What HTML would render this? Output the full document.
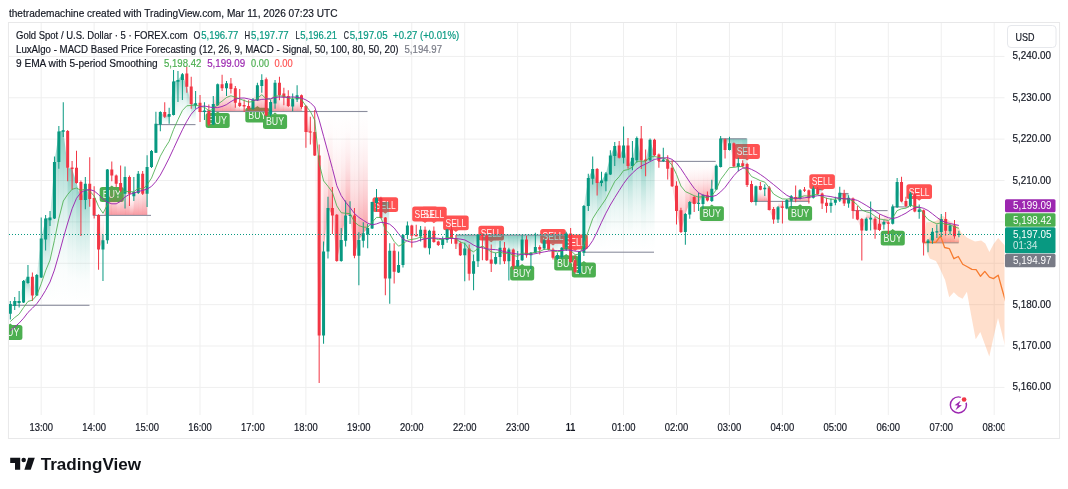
<!DOCTYPE html><html><head><meta charset="utf-8"><title>Gold Spot / U.S. Dollar chart</title>
<style>html,body{margin:0;padding:0;background:#fff;}body{width:1068px;height:489px;overflow:hidden;}svg{display:block;font-family:"Liberation Sans", Arial, sans-serif;}text{white-space:pre;}</style></head><body>
<svg width="1068" height="489" viewBox="0 0 1068 489">
<defs>
<linearGradient id="gt" x1="0" y1="0" x2="0" y2="1"><stop offset="0.00" stop-color="#089981" stop-opacity="0.500"/><stop offset="0.15" stop-color="#089981" stop-opacity="0.361"/><stop offset="0.30" stop-color="#089981" stop-opacity="0.245"/><stop offset="0.45" stop-color="#089981" stop-opacity="0.151"/><stop offset="0.60" stop-color="#089981" stop-opacity="0.080"/><stop offset="0.80" stop-color="#089981" stop-opacity="0.020"/><stop offset="1.00" stop-color="#089981" stop-opacity="0.000"/></linearGradient>
<linearGradient id="gr" x1="0" y1="0" x2="0" y2="1"><stop offset="0.00" stop-color="#f23645" stop-opacity="0.000"/><stop offset="0.20" stop-color="#f23645" stop-opacity="0.020"/><stop offset="0.40" stop-color="#f23645" stop-opacity="0.080"/><stop offset="0.55" stop-color="#f23645" stop-opacity="0.151"/><stop offset="0.70" stop-color="#f23645" stop-opacity="0.245"/><stop offset="0.85" stop-color="#f23645" stop-opacity="0.361"/><stop offset="1.00" stop-color="#f23645" stop-opacity="0.500"/></linearGradient>
<clipPath id="pane"><rect x="9" y="23" width="995.5" height="392"/></clipPath>
</defs>
<rect width="1068" height="489" fill="#fff"/>
<text x="8.9" y="16.8" font-size="10.5" fill="#131722" textLength="328.6" lengthAdjust="spacingAndGlyphs" stroke="#131722" stroke-width="0.18">thetrademachine created with TradingView.com, Mar 11, 2026 07:23 UTC</text>
<rect x="8.45" y="22.5" width="1051.1" height="416" fill="#fff" stroke="#e8e8e9" stroke-width="1"/>
<path d="M41.17 23V415 M94.11 23V415 M147.06 23V415 M200.00 23V415 M252.95 23V415 M305.89 23V415 M358.83 23V415 M411.78 23V415 M464.72 23V415 M517.67 23V415 M570.61 23V415 M623.55 23V415 M676.50 23V415 M729.44 23V415 M782.39 23V415 M835.33 23V415 M888.27 23V415 M941.22 23V415 M994.16 23V415 M9 56.40H1004.5 M9 97.78H1004.5 M9 139.15H1004.5 M9 180.53H1004.5 M9 221.90H1004.5 M9 263.27H1004.5 M9 304.65H1004.5 M9 346.02H1004.5 M9 387.40H1004.5" stroke="#efefef" stroke-width="1" fill="none"/>
<g clip-path="url(#pane)">
<g><rect x="-1.7" y="325.1" width="24.1" height="14.8" rx="2.5" fill="#4caf50"/><path d="M7.8 325.4L10.3 323.4L12.8 325.4Z" fill="#4caf50"/></g>
<g><rect x="99.7" y="187.1" width="24.1" height="14.8" rx="2.5" fill="#4caf50"/><path d="M109.3 187.4L111.8 185.4L114.3 187.4Z" fill="#4caf50"/></g>
<g><rect x="205.6" y="113.1" width="24.1" height="14.8" rx="2.5" fill="#4caf50"/><path d="M215.2 113.4L217.7 111.4L220.2 113.4Z" fill="#4caf50"/></g>
<g><rect x="245.3" y="107.8" width="24.1" height="14.8" rx="2.5" fill="#4caf50"/><path d="M254.9 108.1L257.4 106.1L259.9 108.1Z" fill="#4caf50"/></g>
<g><rect x="263.0" y="114.2" width="24.1" height="14.8" rx="2.5" fill="#4caf50"/><path d="M272.5 114.5L275.0 112.5L277.5 114.5Z" fill="#4caf50"/></g>
<g><rect x="372.5" y="197.3" width="25.6" height="14.8" rx="2.5" fill="#ff5252"/><path d="M382.8 211.8L385.3 213.8L387.8 211.8Z" fill="#ff5252"/></g>
<g><rect x="412.2" y="206.6" width="25.6" height="14.8" rx="2.5" fill="#ff5252"/><path d="M422.5 221.1L425.0 223.1L427.5 221.1Z" fill="#ff5252"/></g>
<g><rect x="421.1" y="206.8" width="25.6" height="14.8" rx="2.5" fill="#ff5252"/><path d="M431.4 221.3L433.9 223.3L436.4 221.3Z" fill="#ff5252"/></g>
<g><rect x="443.1" y="215.5" width="25.6" height="14.8" rx="2.5" fill="#ff5252"/><path d="M453.4 230.0L455.9 232.0L458.4 230.0Z" fill="#ff5252"/></g>
<g><rect x="478.4" y="225.8" width="25.6" height="14.8" rx="2.5" fill="#ff5252"/><path d="M488.7 240.3L491.2 242.3L493.7 240.3Z" fill="#ff5252"/></g>
<g><rect x="510.1" y="265.8" width="24.1" height="14.8" rx="2.5" fill="#4caf50"/><path d="M519.6 266.1L522.1 264.1L524.6 266.1Z" fill="#4caf50"/></g>
<g><rect x="540.2" y="229.0" width="25.6" height="14.8" rx="2.5" fill="#ff5252"/><path d="M550.5 243.5L553.0 245.5L555.5 243.5Z" fill="#ff5252"/></g>
<g><rect x="554.2" y="255.6" width="24.1" height="14.8" rx="2.5" fill="#4caf50"/><path d="M563.7 255.9L566.2 253.9L568.7 255.9Z" fill="#4caf50"/></g>
<g><rect x="562.3" y="234.6" width="25.6" height="14.8" rx="2.5" fill="#ff5252"/><path d="M572.6 249.1L575.1 251.1L577.6 249.1Z" fill="#ff5252"/></g>
<g><rect x="571.8" y="262.6" width="24.1" height="14.8" rx="2.5" fill="#4caf50"/><path d="M581.4 262.9L583.9 260.9L586.4 262.9Z" fill="#4caf50"/></g>
<g><rect x="699.8" y="206.2" width="24.1" height="14.8" rx="2.5" fill="#4caf50"/><path d="M709.3 206.5L711.8 204.5L714.3 206.5Z" fill="#4caf50"/></g>
<g><rect x="734.3" y="144.1" width="25.6" height="14.8" rx="2.5" fill="#ff5252"/><path d="M744.6 158.6L747.1 160.6L749.6 158.6Z" fill="#ff5252"/></g>
<g><rect x="788.0" y="206.0" width="24.1" height="14.8" rx="2.5" fill="#4caf50"/><path d="M797.6 206.3L800.1 204.3L802.6 206.3Z" fill="#4caf50"/></g>
<g><rect x="809.3" y="174.2" width="25.6" height="14.8" rx="2.5" fill="#ff5252"/><path d="M819.6 188.7L822.1 190.7L824.6 188.7Z" fill="#ff5252"/></g>
<g><rect x="880.7" y="230.8" width="24.1" height="14.8" rx="2.5" fill="#4caf50"/><path d="M890.2 231.1L892.7 229.1L895.2 231.1Z" fill="#4caf50"/></g>
<g><rect x="906.4" y="184.3" width="25.6" height="14.8" rx="2.5" fill="#ff5252"/><path d="M916.7 198.8L919.2 200.8L921.7 198.8Z" fill="#ff5252"/></g>
<text x="10.3" y="336.3" font-size="10.9" fill="#fff" text-anchor="middle" textLength="18.2" lengthAdjust="spacingAndGlyphs" fill-opacity="0.93">BUY</text>
<text x="111.8" y="198.3" font-size="10.9" fill="#fff" text-anchor="middle" textLength="18.2" lengthAdjust="spacingAndGlyphs" fill-opacity="0.93">BUY</text>
<text x="217.7" y="124.3" font-size="10.9" fill="#fff" text-anchor="middle" textLength="18.2" lengthAdjust="spacingAndGlyphs" fill-opacity="0.93">BUY</text>
<text x="257.4" y="119.0" font-size="10.9" fill="#fff" text-anchor="middle" textLength="18.2" lengthAdjust="spacingAndGlyphs" fill-opacity="0.93">BUY</text>
<text x="275.0" y="125.4" font-size="10.9" fill="#fff" text-anchor="middle" textLength="18.2" lengthAdjust="spacingAndGlyphs" fill-opacity="0.93">BUY</text>
<text x="385.3" y="208.5" font-size="10.9" fill="#fff" text-anchor="middle" textLength="20.8" lengthAdjust="spacingAndGlyphs" fill-opacity="0.93">SELL</text>
<text x="425.0" y="217.8" font-size="10.9" fill="#fff" text-anchor="middle" textLength="20.8" lengthAdjust="spacingAndGlyphs" fill-opacity="0.93">SELL</text>
<text x="433.9" y="218.0" font-size="10.9" fill="#fff" text-anchor="middle" textLength="20.8" lengthAdjust="spacingAndGlyphs" fill-opacity="0.93">SELL</text>
<text x="455.9" y="226.7" font-size="10.9" fill="#fff" text-anchor="middle" textLength="20.8" lengthAdjust="spacingAndGlyphs" fill-opacity="0.93">SELL</text>
<text x="491.2" y="237.0" font-size="10.9" fill="#fff" text-anchor="middle" textLength="20.8" lengthAdjust="spacingAndGlyphs" fill-opacity="0.93">SELL</text>
<text x="522.1" y="277.0" font-size="10.9" fill="#fff" text-anchor="middle" textLength="18.2" lengthAdjust="spacingAndGlyphs" fill-opacity="0.93">BUY</text>
<text x="553.0" y="240.2" font-size="10.9" fill="#fff" text-anchor="middle" textLength="20.8" lengthAdjust="spacingAndGlyphs" fill-opacity="0.93">SELL</text>
<text x="566.2" y="266.8" font-size="10.9" fill="#fff" text-anchor="middle" textLength="18.2" lengthAdjust="spacingAndGlyphs" fill-opacity="0.93">BUY</text>
<text x="575.1" y="245.8" font-size="10.9" fill="#fff" text-anchor="middle" textLength="20.8" lengthAdjust="spacingAndGlyphs" fill-opacity="0.93">SELL</text>
<text x="583.9" y="273.8" font-size="10.9" fill="#fff" text-anchor="middle" textLength="18.2" lengthAdjust="spacingAndGlyphs" fill-opacity="0.93">BUY</text>
<text x="711.8" y="217.4" font-size="10.9" fill="#fff" text-anchor="middle" textLength="18.2" lengthAdjust="spacingAndGlyphs" fill-opacity="0.93">BUY</text>
<text x="747.1" y="155.3" font-size="10.9" fill="#fff" text-anchor="middle" textLength="20.8" lengthAdjust="spacingAndGlyphs" fill-opacity="0.93">SELL</text>
<text x="800.1" y="217.2" font-size="10.9" fill="#fff" text-anchor="middle" textLength="18.2" lengthAdjust="spacingAndGlyphs" fill-opacity="0.93">BUY</text>
<text x="822.1" y="185.4" font-size="10.9" fill="#fff" text-anchor="middle" textLength="20.8" lengthAdjust="spacingAndGlyphs" fill-opacity="0.93">SELL</text>
<text x="892.7" y="242.0" font-size="10.9" fill="#fff" text-anchor="middle" textLength="18.2" lengthAdjust="spacingAndGlyphs" fill-opacity="0.93">BUY</text>
<text x="919.2" y="195.5" font-size="10.9" fill="#fff" text-anchor="middle" textLength="20.8" lengthAdjust="spacingAndGlyphs" fill-opacity="0.93">SELL</text>
<g>
<polygon points="10.32,304.0 14.88,301.0 14.88,305.0 10.32,305.0" fill="url(#gt)"/>
<polygon points="14.73,301.0 19.29,301.0 19.29,305.0 14.73,305.0" fill="url(#gt)"/>
<polygon points="19.14,301.0 23.70,281.0 23.70,305.0 19.14,305.0" fill="url(#gt)"/>
<polygon points="23.55,281.0 28.11,276.7 28.11,305.0 23.55,305.0" fill="url(#gt)"/>
<polygon points="27.96,276.7 32.53,295.5 32.53,305.0 27.96,305.0" fill="url(#gt)"/>
<polygon points="32.38,295.5 36.94,275.0 36.94,305.0 32.38,305.0" fill="url(#gt)"/>
<polygon points="36.79,275.0 41.35,238.6 41.35,305.0 36.79,305.0" fill="url(#gt)"/>
<polygon points="41.20,238.6 45.76,218.5 45.76,305.0 41.20,305.0" fill="url(#gt)"/>
<polygon points="45.61,218.5 50.17,217.6 50.17,305.0 45.61,305.0" fill="url(#gt)"/>
<polygon points="50.02,217.6 54.59,162.0 54.59,305.0 50.02,305.0" fill="url(#gt)"/>
<polygon points="54.44,162.0 59.00,131.5 59.00,305.0 54.44,305.0" fill="url(#gt)"/>
<polygon points="58.85,131.5 63.41,130.3 63.41,305.0 58.85,305.0" fill="url(#gt)"/>
<polygon points="63.26,130.3 67.82,167.8 67.82,305.0 63.26,305.0" fill="url(#gt)"/>
<polygon points="67.67,167.8 72.23,169.0 72.23,305.0 67.67,305.0" fill="url(#gt)"/>
<polygon points="72.08,169.0 76.65,182.9 76.65,305.0 72.08,305.0" fill="url(#gt)"/>
<polygon points="76.50,182.9 81.06,200.0 81.06,305.0 76.50,305.0" fill="url(#gt)"/>
<polygon points="80.91,200.0 85.47,183.8 85.47,305.0 80.91,305.0" fill="url(#gt)"/>
<polygon points="85.32,183.8 89.88,199.0 89.88,305.0 85.32,305.0" fill="url(#gt)"/>
<polygon points="94.14,215.1 98.71,249.5 98.71,215.1 94.14,215.1" fill="url(#gr)"/>
<polygon points="98.56,249.5 103.12,240.3 103.12,215.1 98.56,215.1" fill="url(#gr)"/>
<polygon points="102.97,240.3 104.59,215.1 104.59,215.1 102.97,215.1" fill="url(#gr)"/>
<polygon points="104.59,215.1 107.53,169.5 107.53,215.1 104.59,215.1" fill="url(#gr)"/>
<polygon points="107.38,169.5 111.94,175.4 111.94,215.1 107.38,215.1" fill="url(#gr)"/>
<polygon points="111.79,175.4 116.35,183.8 116.35,215.1 111.79,215.1" fill="url(#gr)"/>
<polygon points="116.20,183.8 120.77,190.5 120.77,215.1 116.20,215.1" fill="url(#gr)"/>
<polygon points="120.62,190.5 125.18,177.0 125.18,215.1 120.62,215.1" fill="url(#gr)"/>
<polygon points="125.03,177.0 129.59,193.8 129.59,215.1 125.03,215.1" fill="url(#gr)"/>
<polygon points="129.44,193.8 134.00,192.0 134.00,215.1 129.44,215.1" fill="url(#gr)"/>
<polygon points="133.85,192.0 138.41,173.7 138.41,215.1 133.85,215.1" fill="url(#gr)"/>
<polygon points="138.26,173.7 142.83,193.8 142.83,215.1 138.26,215.1" fill="url(#gr)"/>
<polygon points="142.68,193.8 147.24,167.0 147.24,215.1 142.68,215.1" fill="url(#gr)"/>
<polygon points="155.91,123.8 160.47,112.0 160.47,124.3 155.91,124.3" fill="url(#gt)"/>
<polygon points="160.32,112.0 164.89,116.7 164.89,124.3 160.32,124.3" fill="url(#gt)"/>
<polygon points="164.74,116.7 169.30,114.0 169.30,124.3 164.74,124.3" fill="url(#gt)"/>
<polygon points="169.15,114.0 173.71,81.5 173.71,124.3 169.15,124.3" fill="url(#gt)"/>
<polygon points="173.56,81.5 178.12,80.1 178.12,124.3 173.56,124.3" fill="url(#gt)"/>
<polygon points="177.97,80.1 182.53,74.3 182.53,124.3 177.97,124.3" fill="url(#gt)"/>
<polygon points="182.38,74.3 186.95,86.8 186.95,124.3 182.38,124.3" fill="url(#gt)"/>
<polygon points="186.80,86.8 191.36,104.0 191.36,124.3 186.80,124.3" fill="url(#gt)"/>
<polygon points="191.21,104.0 195.77,103.3 195.77,124.3 191.21,124.3" fill="url(#gt)"/>
<polygon points="200.03,112.0 202.47,111.2 202.47,111.2 200.03,111.2" fill="url(#gr)"/>
<polygon points="202.47,111.2 204.59,110.5 204.59,111.2 202.47,111.2" fill="url(#gr)"/>
<polygon points="204.44,110.5 204.67,111.2 204.67,111.2 204.44,111.2" fill="url(#gr)"/>
<polygon points="204.67,111.2 209.01,124.6 209.01,111.2 204.67,111.2" fill="url(#gr)"/>
<polygon points="208.86,124.6 211.82,111.2 211.82,111.2 208.86,111.2" fill="url(#gr)"/>
<polygon points="211.82,111.2 213.42,104.0 213.42,111.2 211.82,111.2" fill="url(#gr)"/>
<polygon points="213.27,104.0 217.83,84.3 217.83,111.2 213.27,111.2" fill="url(#gr)"/>
<polygon points="217.68,84.3 222.24,88.2 222.24,111.2 217.68,111.2" fill="url(#gr)"/>
<polygon points="222.09,88.2 226.65,83.2 226.65,111.2 222.09,111.2" fill="url(#gr)"/>
<polygon points="226.50,83.2 231.07,88.9 231.07,111.2 226.50,111.2" fill="url(#gr)"/>
<polygon points="230.92,88.9 235.48,102.8 235.48,111.2 230.92,111.2" fill="url(#gr)"/>
<polygon points="235.33,102.8 239.89,106.1 239.89,111.2 235.33,111.2" fill="url(#gr)"/>
<polygon points="239.74,106.1 244.30,106.5 244.30,111.2 239.74,111.2" fill="url(#gr)"/>
<polygon points="244.15,106.5 248.71,108.7 248.71,111.2 244.15,111.2" fill="url(#gr)"/>
<polygon points="248.56,108.7 253.13,99.4 253.13,111.2 248.56,111.2" fill="url(#gr)"/>
<polygon points="252.98,99.4 257.54,85.2 257.54,111.2 252.98,111.2" fill="url(#gr)"/>
<polygon points="257.39,85.2 261.95,80.1 261.95,111.2 257.39,111.2" fill="url(#gr)"/>
<polygon points="261.80,80.1 265.82,111.2 265.82,111.2 261.80,111.2" fill="url(#gr)"/>
<polygon points="265.82,111.2 266.36,115.4 266.36,111.2 265.82,111.2" fill="url(#gr)"/>
<polygon points="266.21,115.4 267.64,111.2 267.64,111.2 266.21,111.2" fill="url(#gr)"/>
<polygon points="267.64,111.2 270.77,102.0 270.77,111.2 267.64,111.2" fill="url(#gr)"/>
<polygon points="270.62,102.0 275.19,82.7 275.19,111.2 270.62,111.2" fill="url(#gr)"/>
<polygon points="275.04,82.7 279.60,95.2 279.60,111.2 275.04,111.2" fill="url(#gr)"/>
<polygon points="279.45,95.2 284.01,97.2 284.01,111.2 279.45,111.2" fill="url(#gr)"/>
<polygon points="283.86,97.2 288.42,106.1 288.42,111.2 283.86,111.2" fill="url(#gr)"/>
<polygon points="288.27,106.1 292.83,98.9 292.83,111.2 288.27,111.2" fill="url(#gr)"/>
<polygon points="292.68,98.9 297.25,95.2 297.25,111.2 292.68,111.2" fill="url(#gr)"/>
<polygon points="297.10,95.2 301.66,107.0 301.66,111.2 297.10,111.2" fill="url(#gr)"/>
<polygon points="301.51,107.0 302.27,111.2 302.27,111.2 301.51,111.2" fill="url(#gr)"/>
<polygon points="302.27,111.2 306.07,132.0 306.07,111.2 302.27,111.2" fill="url(#gr)"/>
<polygon points="305.92,132.0 310.48,132.5 310.48,111.2 305.92,111.2" fill="url(#gr)"/>
<polygon points="310.33,132.5 314.89,155.4 314.89,111.2 310.33,111.2" fill="url(#gr)"/>
<polygon points="314.74,155.4 319.31,335.4 319.31,111.2 314.74,111.2" fill="url(#gr)"/>
<polygon points="319.16,335.4 323.72,251.6 323.72,111.2 319.16,111.2" fill="url(#gr)"/>
<polygon points="323.57,251.6 328.13,208.0 328.13,111.2 323.57,111.2" fill="url(#gr)"/>
<polygon points="327.98,208.0 332.54,215.6 332.54,111.2 327.98,111.2" fill="url(#gr)"/>
<polygon points="332.39,215.6 336.95,260.9 336.95,111.2 332.39,111.2" fill="url(#gr)"/>
<polygon points="336.80,260.9 341.37,239.9 341.37,111.2 336.80,111.2" fill="url(#gr)"/>
<polygon points="341.22,239.9 345.78,215.6 345.78,111.2 341.22,111.2" fill="url(#gr)"/>
<polygon points="345.63,215.6 350.19,214.7 350.19,111.2 345.63,111.2" fill="url(#gr)"/>
<polygon points="350.04,214.7 354.60,255.8 354.60,111.2 350.04,111.2" fill="url(#gr)"/>
<polygon points="354.45,255.8 359.01,239.9 359.01,111.2 354.45,111.2" fill="url(#gr)"/>
<polygon points="358.86,239.9 363.43,233.2 363.43,111.2 358.86,111.2" fill="url(#gr)"/>
<polygon points="363.28,233.2 367.84,228.1 367.84,111.2 363.28,111.2" fill="url(#gr)"/>
<polygon points="455.93,243.7 460.49,255.2 460.49,234.8 455.93,234.8" fill="url(#gt)"/>
<polygon points="460.34,255.2 464.90,248.6 464.90,234.8 460.34,234.8" fill="url(#gt)"/>
<polygon points="464.75,248.6 469.31,273.8 469.31,234.8 464.75,234.8" fill="url(#gt)"/>
<polygon points="469.16,273.8 473.73,261.2 473.73,234.8 469.16,234.8" fill="url(#gt)"/>
<polygon points="473.58,261.2 478.14,234.8 478.14,234.8 473.58,234.8" fill="url(#gt)"/>
<polygon points="477.99,234.8 482.55,236.3 482.55,234.8 477.99,234.8" fill="url(#gt)"/>
<polygon points="482.40,236.3 486.96,260.3 486.96,234.8 482.40,234.8" fill="url(#gt)"/>
<polygon points="486.81,260.3 491.37,263.7 491.37,234.8 486.81,234.8" fill="url(#gt)"/>
<polygon points="491.22,263.7 495.79,257.0 495.79,234.8 491.22,234.8" fill="url(#gt)"/>
<polygon points="495.64,257.0 500.20,247.8 500.20,234.8 495.64,234.8" fill="url(#gt)"/>
<polygon points="500.05,247.8 504.61,261.2 504.61,234.8 500.05,234.8" fill="url(#gt)"/>
<polygon points="504.46,261.2 509.02,249.4 509.02,234.8 504.46,234.8" fill="url(#gt)"/>
<polygon points="508.87,249.4 513.43,266.2 513.43,234.8 508.87,234.8" fill="url(#gt)"/>
<polygon points="513.28,266.2 517.85,260.0 517.85,234.8 513.28,234.8" fill="url(#gt)"/>
<polygon points="517.70,260.0 522.26,239.4 522.26,234.8 517.70,234.8" fill="url(#gt)"/>
<polygon points="522.11,239.4 526.67,255.3 526.67,234.8 522.11,234.8" fill="url(#gt)"/>
<polygon points="526.52,255.3 531.08,252.8 531.08,234.8 526.52,234.8" fill="url(#gt)"/>
<polygon points="530.93,252.8 535.49,246.9 535.49,234.8 530.93,234.8" fill="url(#gt)"/>
<polygon points="535.34,246.9 539.91,249.4 539.91,234.8 535.34,234.8" fill="url(#gt)"/>
<polygon points="539.76,249.4 544.32,240.2 544.32,234.8 539.76,234.8" fill="url(#gt)"/>
<polygon points="544.17,240.2 548.73,249.4 548.73,234.8 544.17,234.8" fill="url(#gt)"/>
<polygon points="548.58,249.4 553.14,257.8 553.14,234.8 548.58,234.8" fill="url(#gt)"/>
<polygon points="552.99,257.8 557.55,255.0 557.55,234.8 552.99,234.8" fill="url(#gt)"/>
<polygon points="557.40,255.0 561.97,247.8 561.97,234.8 557.40,234.8" fill="url(#gt)"/>
<polygon points="561.82,247.8 565.96,234.8 565.96,234.8 561.82,234.8" fill="url(#gt)"/>
<polygon points="565.96,234.8 566.38,233.5 566.38,234.8 565.96,234.8" fill="url(#gt)"/>
<polygon points="583.88,206.0 588.44,177.9 588.44,251.9 583.88,251.9" fill="url(#gt)"/>
<polygon points="588.29,177.9 592.85,169.0 592.85,251.9 588.29,251.9" fill="url(#gt)"/>
<polygon points="592.70,169.0 597.26,182.9 597.26,251.9 592.70,251.9" fill="url(#gt)"/>
<polygon points="597.11,182.9 601.67,180.4 601.67,251.9 597.11,251.9" fill="url(#gt)"/>
<polygon points="601.52,180.4 606.09,173.4 606.09,251.9 601.52,251.9" fill="url(#gt)"/>
<polygon points="605.94,173.4 610.50,155.6 610.50,251.9 605.94,251.9" fill="url(#gt)"/>
<polygon points="610.35,155.6 614.91,146.0 614.91,251.9 610.35,251.9" fill="url(#gt)"/>
<polygon points="614.76,146.0 619.32,157.8 619.32,251.9 614.76,251.9" fill="url(#gt)"/>
<polygon points="619.17,157.8 623.73,145.5 623.73,251.9 619.17,251.9" fill="url(#gt)"/>
<polygon points="623.58,145.5 628.15,166.1 628.15,251.9 623.58,251.9" fill="url(#gt)"/>
<polygon points="628.00,166.1 632.56,157.8 632.56,251.9 628.00,251.9" fill="url(#gt)"/>
<polygon points="632.41,157.8 636.97,138.1 636.97,251.9 632.41,251.9" fill="url(#gt)"/>
<polygon points="636.82,138.1 641.38,160.3 641.38,251.9 636.82,251.9" fill="url(#gt)"/>
<polygon points="641.23,160.3 645.79,161.0 645.79,251.9 641.23,251.9" fill="url(#gt)"/>
<polygon points="645.64,161.0 650.21,139.8 650.21,251.9 645.64,251.9" fill="url(#gt)"/>
<polygon points="650.06,139.8 654.62,155.2 654.62,251.9 650.06,251.9" fill="url(#gt)"/>
<polygon points="658.88,161.1 663.44,159.4 663.44,161.1 658.88,161.1" fill="url(#gr)"/>
<polygon points="663.29,159.4 664.13,161.1 664.13,161.1 663.29,161.1" fill="url(#gr)"/>
<polygon points="664.13,161.1 667.85,168.7 667.85,161.1 664.13,161.1" fill="url(#gr)"/>
<polygon points="667.70,168.7 672.27,186.3 672.27,161.1 667.70,161.1" fill="url(#gr)"/>
<polygon points="672.12,186.3 676.68,211.1 676.68,161.1 672.12,161.1" fill="url(#gr)"/>
<polygon points="676.53,211.1 681.09,232.1 681.09,161.1 676.53,161.1" fill="url(#gr)"/>
<polygon points="680.94,232.1 685.50,214.0 685.50,161.1 680.94,161.1" fill="url(#gr)"/>
<polygon points="685.35,214.0 689.91,201.9 689.91,161.1 685.35,161.1" fill="url(#gr)"/>
<polygon points="689.76,201.9 694.33,203.9 694.33,161.1 689.76,161.1" fill="url(#gr)"/>
<polygon points="694.18,203.9 698.74,202.8 698.74,161.1 694.18,161.1" fill="url(#gr)"/>
<polygon points="698.59,202.8 703.15,195.2 703.15,161.1 698.59,161.1" fill="url(#gr)"/>
<polygon points="703.00,195.2 707.56,200.6 707.56,161.1 703.00,161.1" fill="url(#gr)"/>
<polygon points="707.41,200.6 711.97,188.8 711.97,161.1 707.41,161.1" fill="url(#gr)"/>
<polygon points="711.82,188.8 716.39,165.8 716.39,161.1 711.82,161.1" fill="url(#gr)"/>
<polygon points="720.65,138.8 725.21,149.9 725.21,138.5 720.65,138.5" fill="url(#gt)"/>
<polygon points="725.06,149.9 729.62,143.2 729.62,138.5 725.06,138.5" fill="url(#gt)"/>
<polygon points="729.47,143.2 734.03,166.6 734.03,138.5 729.47,138.5" fill="url(#gt)"/>
<polygon points="733.88,166.6 738.45,163.3 738.45,138.5 733.88,138.5" fill="url(#gt)"/>
<polygon points="738.30,163.3 742.86,166.1 742.86,138.5 738.30,138.5" fill="url(#gt)"/>
<polygon points="742.71,166.1 747.27,185.0 747.27,138.5 742.71,138.5" fill="url(#gt)"/>
<polygon points="751.53,201.9 751.76,201.1 751.76,201.1 751.53,201.1" fill="url(#gr)"/>
<polygon points="751.76,201.1 756.09,186.2 756.09,201.1 751.76,201.1" fill="url(#gr)"/>
<polygon points="755.94,186.2 760.51,189.7 760.51,201.1 755.94,201.1" fill="url(#gr)"/>
<polygon points="760.36,189.7 764.92,187.7 764.92,201.1 760.36,201.1" fill="url(#gr)"/>
<polygon points="764.77,187.7 767.51,201.1 767.51,201.1 764.77,201.1" fill="url(#gr)"/>
<polygon points="767.51,201.1 769.33,210.0 769.33,201.1 767.51,201.1" fill="url(#gr)"/>
<polygon points="769.18,210.0 773.74,219.5 773.74,201.1 769.18,201.1" fill="url(#gr)"/>
<polygon points="773.59,219.5 778.15,207.3 778.15,201.1 773.59,201.1" fill="url(#gr)"/>
<polygon points="778.00,207.3 782.57,207.8 782.57,201.1 778.00,201.1" fill="url(#gr)"/>
<polygon points="782.42,207.8 786.29,201.1 786.29,201.1 782.42,201.1" fill="url(#gr)"/>
<polygon points="786.29,201.1 786.98,199.9 786.98,201.1 786.29,201.1" fill="url(#gr)"/>
<polygon points="786.83,199.9 791.39,196.2 791.39,201.1 786.83,201.1" fill="url(#gr)"/>
<polygon points="791.24,196.2 795.80,199.2 795.80,201.1 791.24,201.1" fill="url(#gr)"/>
<polygon points="795.65,199.2 800.21,190.3 800.21,201.1 795.65,201.1" fill="url(#gr)"/>
<polygon points="800.06,190.3 804.63,190.8 804.63,201.1 800.06,201.1" fill="url(#gr)"/>
<polygon points="804.48,190.8 809.04,198.2 809.04,201.1 804.48,201.1" fill="url(#gr)"/>
<polygon points="839.98,193.2 844.33,203.6 844.33,193.2 839.98,193.2" fill="url(#gt)"/>
<polygon points="844.18,203.6 848.75,197.7 848.75,193.2 844.18,193.2" fill="url(#gt)"/>
<polygon points="853.01,211.1 857.57,219.5 857.57,210.3 853.01,210.3" fill="url(#gr)"/>
<polygon points="857.42,219.5 861.98,230.4 861.98,210.3 857.42,210.3" fill="url(#gr)"/>
<polygon points="861.83,230.4 866.39,218.7 866.39,210.3 861.83,210.3" fill="url(#gr)"/>
<polygon points="866.24,218.7 870.81,217.8 870.81,210.3 866.24,210.3" fill="url(#gr)"/>
<polygon points="870.66,217.8 875.22,229.6 875.22,210.3 870.66,210.3" fill="url(#gr)"/>
<polygon points="875.07,229.6 879.63,230.1 879.63,210.3 875.07,210.3" fill="url(#gr)"/>
<polygon points="879.48,230.1 884.04,222.0 884.04,210.3 879.48,210.3" fill="url(#gr)"/>
<polygon points="883.89,222.0 888.45,223.7 888.45,210.3 883.89,210.3" fill="url(#gr)"/>
<polygon points="892.72,206.6 897.28,182.1 897.28,206.6 892.72,206.6" fill="url(#gt)"/>
<polygon points="897.13,182.1 901.69,201.5 901.69,206.6 897.13,206.6" fill="url(#gt)"/>
<polygon points="901.54,201.5 906.10,206.1 906.10,206.6 901.54,206.6" fill="url(#gt)"/>
<polygon points="923.60,242.5 928.16,240.5 928.16,242.5 923.60,242.5" fill="url(#gr)"/>
<polygon points="928.01,240.5 932.57,231.7 932.57,242.5 928.01,242.5" fill="url(#gr)"/>
<polygon points="932.42,231.7 936.99,231.2 936.99,242.5 932.42,242.5" fill="url(#gr)"/>
<polygon points="936.84,231.2 941.40,219.0 941.40,242.5 936.84,242.5" fill="url(#gr)"/>
<polygon points="941.25,219.0 945.81,230.7 945.81,242.5 941.25,242.5" fill="url(#gr)"/>
<polygon points="945.66,230.7 950.22,225.4 950.22,242.5 945.66,242.5" fill="url(#gr)"/>
<polygon points="950.07,225.4 954.63,236.3 954.63,242.5 950.07,242.5" fill="url(#gr)"/>
<polygon points="954.48,236.3 959.05,233.8 959.05,242.5 954.48,242.5" fill="url(#gr)"/>
<rect x="382" y="202" width="7.2" height="34" fill="url(#gt)"/>
<rect x="816.8" y="189.3" width="5" height="5" fill="url(#gt)"/>
</g>
<rect x="9" y="304.75" width="80.5" height="1.1" fill="#8c8e9e"/>
<rect x="92.7" y="214.85" width="58.3" height="1.1" fill="#8c8e9e"/>
<rect x="156" y="124.05" width="39.5" height="1.1" fill="#8c8e9e"/>
<rect x="198.7" y="110.95" width="168.8" height="1.1" fill="#8c8e9e"/>
<rect x="456" y="234.55" width="109.5" height="1.1" fill="#8c8e9e"/>
<rect x="584" y="251.65" width="70.0" height="1.1" fill="#8c8e9e"/>
<rect x="658" y="160.85" width="57.7" height="1.1" fill="#8c8e9e"/>
<rect x="719.4" y="138.25" width="27.2" height="1.1" fill="#8c8e9e"/>
<rect x="750.7" y="200.85" width="58.8" height="1.1" fill="#8c8e9e"/>
<rect x="838.9" y="192.95" width="9.4" height="1.1" fill="#8c8e9e"/>
<rect x="853.4" y="210.05" width="34.2" height="1.1" fill="#8c8e9e"/>
<rect x="893" y="206.35" width="16.0" height="1.1" fill="#8c8e9e"/>
<rect x="922.5" y="242.25" width="36.1" height="1.1" fill="#8c8e9e"/>
<rect x="817.5" y="189" width="3.5" height="1" fill="#787b86"/>
<polygon points="923.5,242.3 926.1,222.5 931,222 936,221 940.5,217 943,215.8 946.2,218.4 951,222 956.5,224.6 958.6,227 961,232.3 966.8,237.4 971.3,239.8 975,241.6 981.2,240.5 985.3,243.6 989.4,251.9 993.6,244.1 998.2,238 1003.9,244.6 1008,249 1008,358 1004.5,343.8 998,318 993.7,336.5 989.3,356.6 984.9,344.6 980.3,332 975.7,339.2 971.3,316 966.9,291.8 962.6,298.8 958.2,296.4 953.8,292.3 949.2,297.2 945.1,280 944.6,279.1 941,270.9 938,264.7 935.9,261.1 929.7,258.5 927.1,252.4 926.3,246 923.5,242.3" fill="#ff7b2b" fill-opacity="0.24"/>
<polyline points="923.5,242.3 935.9,242.3 940.5,235.9 944.6,247.5 949.3,248.6 953.9,258.7 958.3,256.5 962.7,264.2 967.3,266.8 971.9,269.4 976.1,269.7 980.5,276.3 984.8,271.4 989.4,277.1 993.4,278.6 998.2,275.2 1002.3,290 1006.6,305" fill="none" stroke="#f77c30" stroke-width="1.3" stroke-linejoin="round"/>
<path d="M9.82 301.0h1v18.5h-1zM8.82 304.0h3v9.7h-3zM14.23 297.0h1v13.0h-1zM13.23 301.0h3v5.0h-3zM18.64 291.0h1v16.5h-1zM17.64 301.0h3v2.0h-3zM23.05 280.0h1v23.0h-1zM22.05 281.0h3v21.5h-3zM27.46 265.0h1v18.7h-1zM26.46 276.7h3v6.3h-3zM36.29 274.0h1v22.0h-1zM35.29 275.0h3v20.5h-3zM40.70 217.6h1v60.4h-1zM39.70 238.6h3v38.9h-3zM45.11 215.1h1v35.3h-1zM44.11 218.5h3v21.0h-3zM49.52 211.0h1v15.0h-1zM48.52 217.6h3v2.6h-3zM53.94 156.6h1v62.4h-1zM52.94 162.0h3v56.5h-3zM58.35 125.9h1v42.8h-1zM57.35 131.5h3v30.5h-3zM62.76 102.3h1v34.7h-1zM61.76 130.3h3v1.5h-3zM84.82 177.0h1v32.3h-1zM83.82 183.8h3v16.2h-3zM102.47 234.4h1v46.6h-1zM101.47 240.3h3v9.2h-3zM106.88 169.0h1v74.7h-1zM105.88 169.5h3v70.8h-3zM124.53 166.6h1v41.8h-1zM123.53 177.0h3v16.8h-3zM133.35 177.0h1v24.0h-1zM132.35 192.0h3v4.3h-3zM137.76 171.0h1v23.0h-1zM136.76 173.7h3v19.3h-3zM146.59 155.2h1v51.9h-1zM145.59 167.0h3v26.8h-3zM151.00 150.0h1v18.0h-1zM150.00 151.0h3v16.0h-3zM155.41 111.7h1v41.3h-1zM154.41 123.8h3v28.9h-3zM159.82 111.2h1v20.1h-1zM158.82 112.0h3v12.6h-3zM168.65 107.8h1v16.0h-1zM167.65 114.0h3v2.7h-3zM173.06 70.1h1v45.4h-1zM172.06 81.5h3v33.5h-3zM177.47 70.9h1v31.1h-1zM176.47 80.1h3v1.7h-3zM181.88 73.0h1v27.0h-1zM180.88 74.3h3v5.8h-3zM195.12 91.0h1v17.7h-1zM194.12 103.3h3v2.3h-3zM203.94 102.3h1v17.7h-1zM202.94 110.5h3v1.5h-3zM212.77 96.1h1v28.9h-1zM211.77 104.0h3v20.6h-3zM217.18 83.5h1v22.5h-1zM216.18 84.3h3v21.0h-3zM226.00 81.0h1v15.1h-1zM225.00 83.2h3v5.0h-3zM252.48 98.0h1v12.0h-1zM251.48 99.4h3v9.3h-3zM256.89 82.7h1v18.3h-1zM255.89 85.2h3v15.1h-3zM261.30 74.3h1v18.4h-1zM260.30 80.1h3v5.9h-3zM270.12 99.4h1v16.8h-1zM269.12 102.0h3v12.5h-3zM274.54 80.1h1v28.6h-1zM273.54 82.7h3v20.9h-3zM292.18 93.6h1v17.6h-1zM291.18 98.9h3v7.7h-3zM296.60 85.2h1v16.8h-1zM295.60 95.2h3v4.2h-3zM323.07 241.6h1v102.2h-1zM322.07 251.6h3v83.8h-3zM327.48 196.8h1v61.6h-1zM326.48 208.0h3v43.6h-3zM340.72 228.1h1v33.6h-1zM339.72 239.9h3v21.0h-3zM345.13 200.5h1v46.1h-1zM344.13 215.6h3v25.1h-3zM349.54 201.3h1v22.7h-1zM348.54 214.7h3v1.3h-3zM358.36 232.3h1v52.9h-1zM357.36 239.9h3v15.9h-3zM362.78 222.3h1v25.1h-1zM361.78 233.2h3v7.5h-3zM367.19 224.0h1v24.3h-1zM366.19 228.1h3v6.4h-3zM371.60 201.8h1v27.2h-1zM370.60 202.1h3v26.5h-3zM376.01 189.0h1v22.4h-1zM375.01 198.0h3v5.0h-3zM389.25 243.2h1v60.5h-1zM388.25 250.8h3v27.7h-3zM398.07 251.6h1v21.4h-1zM397.07 265.1h3v7.5h-3zM402.48 234.0h1v33.6h-1zM401.48 234.9h3v30.2h-3zM406.90 221.4h1v17.6h-1zM405.90 225.6h3v9.3h-3zM420.13 226.0h1v15.6h-1zM419.13 229.8h3v6.7h-3zM428.96 229.8h1v24.7h-1zM427.96 230.7h3v17.6h-3zM442.19 236.5h1v12.3h-1zM441.19 239.0h3v5.9h-3zM446.60 229.0h1v13.7h-1zM445.60 229.5h3v10.4h-3zM464.25 242.7h1v38.6h-1zM463.25 248.6h3v6.7h-3zM473.08 254.5h1v35.7h-1zM472.08 261.2h3v12.6h-3zM477.49 234.0h1v33.0h-1zM476.49 234.8h3v26.4h-3zM495.14 252.8h1v11.7h-1zM494.14 257.0h3v6.7h-3zM499.55 241.0h1v23.5h-1zM498.55 247.8h3v9.2h-3zM508.37 247.8h1v32.7h-1zM507.37 249.4h3v11.8h-3zM517.20 251.1h1v15.9h-1zM516.20 260.0h3v6.2h-3zM521.61 235.2h1v25.8h-1zM520.61 239.4h3v20.9h-3zM530.43 252.0h1v17.6h-1zM529.43 252.8h3v2.5h-3zM534.84 232.7h1v20.6h-1zM533.84 246.9h3v5.9h-3zM543.67 239.0h1v11.0h-1zM542.67 240.2h3v8.4h-3zM556.90 252.8h1v7.2h-1zM555.90 255.0h3v3.7h-3zM561.32 246.9h1v11.8h-1zM560.32 247.8h3v9.2h-3zM565.73 231.8h1v19.3h-1zM564.73 233.5h3v15.9h-3zM578.96 251.1h1v23.5h-1zM577.96 251.6h3v21.3h-3zM583.38 205.0h1v51.1h-1zM582.38 206.0h3v46.8h-3zM587.79 173.7h1v37.3h-1zM586.79 177.9h3v28.1h-3zM592.20 156.6h1v28.0h-1zM591.20 169.0h3v9.7h-3zM601.02 171.7h1v14.6h-1zM600.02 180.4h3v2.5h-3zM605.44 172.0h1v19.3h-1zM604.44 173.4h3v7.8h-3zM609.85 150.2h1v24.8h-1zM608.85 155.6h3v18.9h-3zM614.26 142.1h1v24.0h-1zM613.26 146.0h3v10.1h-3zM623.08 126.4h1v37.2h-1zM622.08 145.5h3v12.3h-3zM631.91 141.0h1v29.3h-1zM630.91 157.8h3v8.3h-3zM636.32 136.4h1v26.4h-1zM635.32 138.1h3v22.2h-3zM649.56 138.5h1v22.5h-1zM648.56 139.8h3v20.5h-3zM662.79 147.7h1v14.3h-1zM661.79 159.4h3v1.7h-3zM684.85 213.0h1v31.7h-1zM683.85 214.0h3v18.1h-3zM689.26 201.0h1v17.7h-1zM688.26 201.9h3v12.6h-3zM698.09 192.7h1v18.4h-1zM697.09 202.8h3v1.1h-3zM702.50 194.5h1v14.5h-1zM701.50 195.2h3v8.7h-3zM711.32 179.8h1v22.2h-1zM710.32 188.8h3v12.3h-3zM715.74 164.5h1v25.5h-1zM714.74 165.8h3v23.7h-3zM720.15 135.9h1v31.6h-1zM719.15 138.8h3v28.2h-3zM728.97 136.8h1v13.7h-1zM727.97 143.2h3v6.7h-3zM737.80 157.8h1v13.4h-1zM736.80 163.3h3v3.7h-3zM755.44 185.5h1v20.1h-1zM754.44 186.2h3v15.7h-3zM764.27 184.3h1v11.7h-1zM763.27 187.7h3v1.6h-3zM777.50 206.0h1v16.9h-1zM776.50 207.3h3v12.2h-3zM786.33 199.0h1v10.3h-1zM785.33 199.9h3v8.7h-3zM790.74 194.9h1v12.9h-1zM789.74 196.2h3v4.6h-3zM799.56 189.0h1v10.5h-1zM798.56 190.3h3v8.4h-3zM812.80 186.2h1v12.3h-1zM811.80 188.6h3v9.2h-3zM830.45 198.5h1v14.3h-1zM829.45 202.7h3v3.4h-3zM834.86 196.8h1v8.4h-1zM833.86 199.9h3v2.8h-3zM839.27 186.8h1v15.1h-1zM838.27 192.7h3v7.8h-3zM848.10 195.2h1v12.6h-1zM847.10 197.7h3v5.9h-3zM865.74 217.5h1v13.5h-1zM864.74 218.7h3v11.7h-3zM870.16 201.5h1v28.9h-1zM869.16 217.8h3v1.7h-3zM883.39 220.3h1v9.3h-1zM882.39 222.0h3v2.5h-3zM892.22 204.4h1v20.1h-1zM891.22 206.6h3v17.1h-3zM896.63 178.1h1v29.9h-1zM895.63 182.1h3v25.1h-3zM909.86 191.8h1v15.2h-1zM908.86 193.5h3v12.6h-3zM918.69 204.4h1v14.3h-1zM917.69 209.4h3v2.5h-3zM927.51 239.1h1v13.1h-1zM926.51 240.5h3v2.5h-3zM931.92 227.9h1v15.9h-1zM930.92 231.7h3v8.8h-3zM936.34 224.5h1v13.5h-1zM935.34 231.2h3v1.2h-3zM940.75 214.0h1v23.1h-1zM939.75 219.0h3v13.1h-3zM949.57 224.5h1v10.1h-1zM948.57 225.4h3v5.8h-3zM958.40 230.8h1v6.4h-1zM957.40 233.8h3v1.1h-3z" fill="#089981"/>
<path d="M31.88 272.5h1v28.5h-1zM30.88 276.7h3v18.8h-3zM67.17 130.0h1v51.2h-1zM66.17 131.0h3v36.8h-3zM71.58 161.0h1v28.6h-1zM70.58 167.5h3v1.5h-3zM76.00 150.7h1v33.1h-1zM75.00 167.8h3v15.1h-3zM80.41 180.4h1v55.6h-1zM79.41 182.0h3v18.0h-3zM89.23 157.2h1v49.5h-1zM88.23 183.8h3v15.2h-3zM93.64 186.3h1v32.2h-1zM92.64 198.0h3v17.1h-3zM98.06 214.3h1v55.4h-1zM97.06 215.1h3v34.4h-3zM111.29 161.6h1v19.6h-1zM110.29 169.5h3v5.9h-3zM115.70 174.5h1v12.5h-1zM114.70 175.4h3v8.4h-3zM120.12 165.6h1v26.5h-1zM119.12 182.9h3v7.6h-3zM128.94 175.4h1v30.5h-1zM127.94 177.0h3v16.8h-3zM142.18 171.0h1v24.0h-1zM141.18 173.7h3v20.1h-3zM164.24 102.3h1v15.7h-1zM163.24 112.0h3v4.7h-3zM186.30 66.7h1v26.0h-1zM185.30 73.4h3v13.4h-3zM190.71 76.8h1v31.9h-1zM189.71 86.5h3v17.5h-3zM199.53 94.9h1v27.1h-1zM198.53 102.8h3v9.2h-3zM208.36 104.5h1v21.8h-1zM207.36 110.3h3v14.3h-3zM221.59 74.8h1v16.2h-1zM220.59 84.3h3v3.9h-3zM230.42 78.1h1v15.5h-1zM229.42 83.5h3v5.4h-3zM234.83 86.0h1v21.8h-1zM233.83 88.2h3v14.6h-3zM239.24 88.9h1v18.1h-1zM238.24 102.8h3v3.3h-3zM243.65 99.4h1v12.6h-1zM242.65 105.0h3v1.5h-3zM248.06 100.3h1v10.0h-1zM247.06 106.0h3v2.7h-3zM265.71 77.6h1v38.6h-1zM264.71 79.3h3v36.1h-3zM278.95 76.8h1v23.5h-1zM277.95 82.7h3v12.5h-3zM283.36 87.7h1v17.6h-1zM282.36 93.6h3v3.6h-3zM287.77 90.2h1v16.8h-1zM286.77 96.1h3v10.0h-3zM301.01 94.4h1v14.3h-1zM300.01 95.2h3v11.8h-3zM305.42 105.0h1v42.8h-1zM304.42 106.1h3v25.9h-3zM309.83 116.8h1v27.7h-1zM308.83 131.5h3v1.0h-3zM314.24 110.0h1v46.0h-1zM313.24 131.9h3v23.5h-3zM318.66 144.5h1v238.4h-1zM317.66 155.4h3v180.0h-3zM331.89 187.0h1v47.0h-1zM330.89 208.0h3v7.6h-3zM336.30 213.9h1v47.8h-1zM335.30 214.7h3v46.2h-3zM353.95 208.0h1v50.3h-1zM352.95 215.6h3v40.2h-3zM380.42 196.8h1v21.7h-1zM379.42 198.0h3v20.0h-3zM384.84 217.0h1v78.3h-1zM383.84 217.6h3v60.9h-3zM393.66 243.2h1v40.3h-1zM392.66 250.8h3v21.0h-3zM411.31 224.8h1v22.6h-1zM410.31 225.6h3v10.1h-3zM415.72 224.8h1v11.7h-1zM414.72 235.0h3v1.2h-3zM424.54 226.5h1v21.8h-1zM423.54 229.8h3v17.6h-3zM433.37 226.5h1v16.2h-1zM432.37 230.7h3v11.4h-3zM437.78 240.7h1v5.3h-1zM436.78 241.6h3v3.3h-3zM451.02 226.0h1v17.7h-1zM450.02 229.5h3v8.7h-3zM455.43 234.9h1v14.2h-1zM454.43 238.2h3v5.5h-3zM459.84 241.6h1v14.4h-1zM458.84 243.2h3v12.0h-3zM468.66 244.4h1v36.1h-1zM467.66 248.6h3v25.2h-3zM481.90 234.0h1v26.3h-1zM480.90 234.8h3v1.5h-3zM486.31 234.3h1v26.7h-1zM485.31 235.2h3v25.1h-3zM490.72 244.4h1v27.7h-1zM489.72 259.5h3v4.2h-3zM503.96 241.9h1v22.1h-1zM502.96 247.8h3v13.4h-3zM512.78 248.6h1v21.0h-1zM511.78 249.4h3v16.8h-3zM526.02 236.0h1v21.8h-1zM525.02 239.4h3v15.9h-3zM539.26 245.2h1v9.3h-1zM538.26 246.9h3v2.5h-3zM548.08 238.0h1v12.5h-1zM547.08 240.2h3v9.2h-3zM552.49 247.8h1v11.7h-1zM551.49 249.4h3v8.4h-3zM570.14 228.1h1v34.8h-1zM569.14 233.5h3v28.5h-3zM574.55 255.3h1v18.1h-1zM573.55 260.3h3v11.8h-3zM596.61 168.0h1v27.5h-1zM595.61 169.0h3v13.9h-3zM618.67 141.0h1v17.5h-1zM617.67 145.5h3v12.3h-3zM627.50 138.1h1v30.6h-1zM626.50 145.5h3v20.6h-3zM640.73 125.9h1v43.1h-1zM639.73 138.5h3v21.8h-3zM645.14 149.4h1v26.8h-1zM644.14 159.5h3v1.5h-3zM653.97 138.8h1v17.2h-1zM652.97 139.8h3v15.4h-3zM658.38 153.5h1v14.3h-1zM657.38 154.4h3v6.7h-3zM667.20 155.2h1v24.4h-1zM666.20 159.4h3v9.3h-3zM671.62 160.3h1v26.7h-1zM670.62 167.8h3v18.5h-3zM676.03 181.2h1v43.4h-1zM675.03 185.8h3v25.3h-3zM680.44 207.8h1v25.2h-1zM679.44 210.3h3v21.8h-3zM693.68 196.0h1v16.0h-1zM692.68 196.9h3v7.0h-3zM706.91 191.5h1v10.0h-1zM705.91 195.5h3v5.1h-3zM724.56 138.5h1v20.1h-1zM723.56 139.3h3v10.6h-3zM733.38 142.5h1v24.5h-1zM732.38 143.2h3v23.4h-3zM742.21 160.3h1v7.5h-1zM741.21 163.3h3v2.8h-3zM746.62 162.8h1v24.3h-1zM745.62 164.0h3v21.0h-3zM751.03 180.8h1v21.7h-1zM750.03 184.0h3v17.9h-3zM759.86 182.0h1v8.3h-1zM758.86 186.0h3v3.7h-3zM768.68 186.0h1v24.5h-1zM767.68 187.5h3v22.5h-3zM773.09 207.0h1v16.7h-1zM772.09 209.0h3v10.5h-3zM781.92 201.1h1v22.3h-1zM780.92 206.6h3v1.2h-3zM795.15 185.6h1v16.6h-1zM794.15 197.0h3v2.2h-3zM803.98 187.1h1v4.9h-1zM802.98 189.6h3v1.2h-3zM808.39 189.5h1v14.1h-1zM807.39 190.3h3v7.9h-3zM817.21 187.1h1v7.9h-1zM816.21 188.8h3v5.2h-3zM821.62 192.5h1v16.4h-1zM820.62 193.5h3v10.1h-3zM826.04 197.7h1v15.1h-1zM825.04 202.7h3v3.4h-3zM843.68 189.8h1v16.3h-1zM842.68 193.5h3v10.1h-3zM852.51 197.5h1v21.2h-1zM851.51 198.5h3v12.6h-3zM856.92 206.1h1v14.2h-1zM855.92 210.3h3v9.2h-3zM861.33 218.0h1v42.6h-1zM860.33 219.0h3v11.4h-3zM874.57 217.0h1v21.8h-1zM873.57 218.7h3v10.9h-3zM878.98 214.5h1v16.5h-1zM877.98 223.7h3v6.4h-3zM887.80 221.2h1v13.8h-1zM886.80 222.5h3v1.2h-3zM901.04 176.7h1v25.6h-1zM900.04 182.1h3v19.4h-3zM905.45 196.8h1v10.4h-1zM904.45 201.0h3v5.1h-3zM914.28 192.7h1v19.6h-1zM913.28 193.5h3v18.1h-3zM923.10 209.5h1v46.0h-1zM922.10 210.3h3v32.2h-3zM945.16 211.9h1v23.9h-1zM944.16 219.0h3v11.7h-3zM953.98 220.0h1v18.8h-1zM952.98 225.4h3v10.9h-3z" fill="#f23645"/>
<polyline points="10.3,321.6 14.7,317.5 19.1,314.2 23.6,307.5 28.0,301.4 32.4,300.2 36.8,295.2 41.2,283.8 45.6,270.8 50.0,260.1 54.4,240.5 58.8,218.7 63.3,201.0 67.7,194.4 72.1,189.3 76.5,188.0 80.9,190.4 85.3,189.1 89.7,191.1 94.1,195.9 98.6,206.6 103.0,213.3 107.4,204.6 111.8,198.7 116.2,195.8 120.6,194.7 125.0,191.2 129.4,191.7 133.9,191.8 138.3,188.1 142.7,189.3 147.1,184.8 151.5,178.1 155.9,167.2 160.3,156.2 164.7,148.3 169.1,141.4 173.6,129.4 178.0,119.6 182.4,110.5 186.8,105.8 191.2,105.4 195.6,105.0 200.0,106.4 204.4,107.2 208.9,110.7 213.3,109.4 217.7,104.3 222.1,101.1 226.5,97.5 230.9,95.8 235.3,97.2 239.7,99.0 244.2,100.5 248.6,102.1 253.0,101.6 257.4,98.3 261.8,94.7 266.2,98.8 270.6,99.4 275.0,96.1 279.4,95.9 283.9,96.2 288.3,98.2 292.7,98.3 297.1,97.7 301.5,99.5 305.9,106.0 310.3,111.3 314.7,120.1 319.2,163.2 323.6,180.9 328.0,186.3 332.4,192.2 336.8,205.9 341.2,212.7 345.6,213.3 350.0,213.6 354.5,222.0 358.9,225.6 363.3,227.1 367.7,227.3 372.1,222.3 376.5,217.4 380.9,217.5 385.3,229.7 389.7,233.9 394.2,241.5 398.6,246.2 403.0,244.0 407.4,240.3 411.8,239.4 416.2,238.7 420.6,237.0 425.0,239.0 429.5,237.4 433.9,238.3 438.3,239.6 442.7,239.5 447.1,237.5 451.5,237.6 455.9,238.9 460.3,242.1 464.8,243.4 469.2,249.5 473.6,251.8 478.0,248.4 482.4,246.0 486.8,248.9 491.2,251.8 495.6,252.9 500.0,251.9 504.5,253.7 508.9,252.9 513.3,255.5 517.7,256.4 522.1,253.0 526.5,253.5 530.9,253.3 535.3,252.1 539.8,251.5 544.2,249.3 548.6,249.3 553.0,251.0 557.4,251.8 561.8,251.0 566.2,247.5 570.6,250.4 575.1,254.7 579.5,254.1 583.9,244.5 588.3,231.2 592.7,218.7 597.1,211.6 601.5,205.3 605.9,198.9 610.3,190.3 614.8,181.4 619.2,176.7 623.6,170.5 628.0,169.6 632.4,167.2 636.8,161.4 641.2,161.2 645.6,161.1 650.1,156.9 654.5,156.5 658.9,157.5 663.3,157.8 667.7,160.0 672.1,165.3 676.5,174.4 680.9,186.0 685.4,191.6 689.8,193.6 694.2,195.7 698.6,197.1 703.0,196.7 707.4,197.5 711.8,195.8 716.2,189.8 720.6,179.6 725.1,173.6 729.5,167.6 733.9,167.4 738.3,166.6 742.7,166.5 747.1,170.2 751.5,176.5 755.9,178.5 760.4,180.7 764.8,182.1 769.2,187.7 773.6,194.0 778.0,196.7 782.4,198.9 786.8,199.1 791.2,198.5 795.7,198.7 800.1,197.0 804.5,195.8 808.9,196.2 813.3,194.7 817.7,194.6 822.1,196.4 826.5,198.3 830.9,199.2 835.4,199.3 839.8,198.0 844.2,199.1 848.6,198.8 853.0,201.3 857.4,204.9 861.8,210.0 866.2,211.8 870.7,213.0 875.1,216.3 879.5,219.1 883.9,219.6 888.3,220.5 892.7,217.7 897.1,210.6 901.5,208.8 906.0,208.2 910.4,205.3 914.8,206.5 919.2,207.1 923.6,214.2 928.0,219.5 932.4,221.9 936.8,223.8 941.2,222.8 945.7,224.4 950.1,224.6 954.5,226.9 958.9,228.3" fill="none" stroke="#4caf50" stroke-width="0.9" stroke-linejoin="round" opacity="0.95"/>
<polyline points="10.3,330.7 14.7,327.0 19.1,323.1 23.6,318.2 28.0,312.4 32.4,308.2 36.8,303.7 41.2,297.6 45.6,290.3 50.0,282.0 54.4,270.1 58.8,254.8 63.3,238.2 67.7,223.0 72.1,208.8 76.5,198.3 80.9,192.6 85.3,190.2 89.7,189.6 94.1,190.9 98.6,194.6 103.0,199.2 107.4,202.3 111.8,203.8 116.2,203.8 120.6,201.4 125.0,197.0 129.4,194.4 133.9,193.0 138.3,191.5 142.7,190.4 147.1,189.1 151.5,186.4 155.9,181.5 160.3,175.1 164.7,166.9 169.1,158.2 173.6,148.5 178.0,139.0 182.4,129.8 186.8,121.3 191.2,114.1 195.6,109.3 200.0,106.6 204.4,106.0 208.9,106.9 213.3,107.7 217.7,107.6 222.1,106.5 226.5,104.6 230.9,101.6 235.3,99.2 239.7,98.1 244.2,98.0 248.6,98.9 253.0,100.1 257.4,100.3 261.8,99.4 266.2,99.1 270.6,98.6 275.0,97.5 279.4,97.0 283.9,97.3 288.3,97.2 292.7,96.9 297.1,97.3 301.5,98.0 305.9,99.9 310.3,102.6 314.7,107.0 319.2,120.1 323.6,136.3 328.0,152.4 332.4,168.5 336.8,185.7 341.2,195.6 345.6,202.1 350.0,207.5 354.5,213.5 358.9,217.4 363.3,220.3 367.7,223.1 372.1,224.9 376.5,223.9 380.9,222.3 385.3,222.9 389.7,224.2 394.2,228.0 398.6,233.8 403.0,239.1 407.4,241.2 411.8,242.3 416.2,241.7 420.6,239.9 425.0,238.9 429.5,238.3 433.9,238.1 438.3,238.3 442.7,238.8 447.1,238.5 451.5,238.5 455.9,238.6 460.3,239.1 464.8,239.9 469.2,242.3 473.6,245.1 478.0,247.1 482.4,247.8 486.8,248.9 491.2,249.4 495.6,249.6 500.0,250.3 504.5,251.8 508.9,252.6 513.3,253.4 517.7,254.1 522.1,254.3 526.5,254.3 530.9,254.4 535.3,253.7 539.8,252.7 544.2,251.9 548.6,251.1 553.0,250.6 557.4,250.6 561.8,250.5 566.2,250.1 570.6,250.3 575.1,251.1 579.5,251.5 583.9,250.2 588.3,247.0 592.7,240.6 597.1,232.0 601.5,222.3 605.9,213.2 610.3,205.0 614.8,197.5 619.2,190.5 623.6,183.6 628.0,177.7 632.4,173.1 636.8,169.1 641.2,166.0 645.6,164.1 650.1,161.6 654.5,159.4 658.9,158.6 663.3,158.0 667.7,157.7 672.1,159.4 676.5,163.0 680.9,168.7 685.4,175.5 689.8,182.2 694.2,188.3 698.6,192.8 703.0,195.0 707.4,196.1 711.8,196.6 716.2,195.4 720.6,191.9 725.1,187.3 729.5,181.3 733.9,175.6 738.3,170.9 742.7,168.3 747.1,167.6 751.5,169.4 755.9,171.6 760.4,174.5 764.8,177.6 769.2,181.1 773.6,184.6 778.0,188.2 782.4,191.9 786.8,195.3 791.2,197.5 795.7,198.4 800.1,198.4 804.5,197.8 808.9,197.2 813.3,196.5 817.7,195.7 822.1,195.5 826.5,196.0 830.9,196.6 835.4,197.6 839.8,198.2 844.2,198.8 848.6,198.9 853.0,199.3 857.4,200.4 861.8,202.8 866.2,205.4 870.7,208.2 875.1,211.2 879.5,214.0 883.9,215.9 888.3,217.7 892.7,218.6 897.1,217.5 901.5,215.4 906.0,213.1 910.4,210.1 914.8,207.9 919.2,207.2 923.6,208.3 928.0,210.5 932.4,213.8 936.8,217.3 941.2,220.4 945.7,222.5 950.1,223.5 954.5,224.5 958.9,225.4" fill="none" stroke="#9c27b0" stroke-width="1" stroke-linejoin="round" opacity="0.95"/>
<path d="M9 234.5H1004.5" stroke="#089981" stroke-width="1" stroke-dasharray="1 2" fill="none"/>
</g>
<text x="16" y="38.8" font-size="10.5" fill="#131722" textLength="171.6" lengthAdjust="spacingAndGlyphs" stroke="#131722" stroke-width="0.18">Gold Spot / U.S. Dollar · 5 · FOREX.com</text>
<text x="193.6" y="38.8" font-size="10.5" fill="#131722" textLength="6.8" lengthAdjust="spacingAndGlyphs" stroke="#131722" stroke-width="0.18">O</text>
<text x="201.2" y="38.8" font-size="10.5" fill="#089981" textLength="37.2" lengthAdjust="spacingAndGlyphs" stroke="#089981" stroke-width="0.18">5,196.77</text>
<text x="244.6" y="38.8" font-size="10.5" fill="#131722" textLength="5.6" lengthAdjust="spacingAndGlyphs" stroke="#131722" stroke-width="0.18">H</text>
<text x="251.1" y="38.8" font-size="10.5" fill="#089981" textLength="37.5" lengthAdjust="spacingAndGlyphs" stroke="#089981" stroke-width="0.18">5,197.77</text>
<text x="295.4" y="38.8" font-size="10.5" fill="#131722" textLength="4.2" lengthAdjust="spacingAndGlyphs" stroke="#131722" stroke-width="0.18">L</text>
<text x="300.3" y="38.8" font-size="10.5" fill="#089981" textLength="36.6" lengthAdjust="spacingAndGlyphs" stroke="#089981" stroke-width="0.18">5,196.21</text>
<text x="343.7" y="38.8" font-size="10.5" fill="#131722" textLength="5.2" lengthAdjust="spacingAndGlyphs" stroke="#131722" stroke-width="0.18">C</text>
<text x="349.7" y="38.8" font-size="10.5" fill="#089981" textLength="38" lengthAdjust="spacingAndGlyphs" stroke="#089981" stroke-width="0.18">5,197.05</text>
<text x="393.1" y="38.8" font-size="10.5" fill="#089981" textLength="66" lengthAdjust="spacingAndGlyphs" stroke="#089981" stroke-width="0.18">+0.27 (+0.01%)</text>
<text x="16" y="53" font-size="10.5" fill="#131722" textLength="382.6" lengthAdjust="spacingAndGlyphs" stroke="#131722" stroke-width="0.18">LuxAlgo - MACD Based Price Forecasting (12, 26, 9, MACD - Signal, 50, 100, 80, 50, 20)</text>
<text x="404.5" y="53" font-size="10.5" fill="#787b86" textLength="37.5" lengthAdjust="spacingAndGlyphs" stroke="#787b86" stroke-width="0.18">5,194.97</text>
<text x="16" y="67.1" font-size="10.5" fill="#131722" textLength="141.7" lengthAdjust="spacingAndGlyphs" stroke="#131722" stroke-width="0.18">9 EMA with 5-period Smoothing</text>
<text x="164" y="67.1" font-size="10.5" fill="#4caf50" textLength="37.4" lengthAdjust="spacingAndGlyphs" stroke="#4caf50" stroke-width="0.18">5,198.42</text>
<text x="207.2" y="67.1" font-size="10.5" fill="#9c27b0" textLength="38" lengthAdjust="spacingAndGlyphs" stroke="#9c27b0" stroke-width="0.18">5,199.09</text>
<text x="251.1" y="67.1" font-size="10.5" fill="#4caf50" textLength="18" lengthAdjust="spacingAndGlyphs" stroke="#4caf50" stroke-width="0.18">0.00</text>
<text x="274.5" y="67.1" font-size="10.5" fill="#ff5252" textLength="18.2" lengthAdjust="spacingAndGlyphs" stroke="#ff5252" stroke-width="0.18">0.00</text>
<rect x="1007.5" y="25.5" width="48.5" height="22" rx="3.5" fill="#fff" stroke="#e6e8ec"/>
<text x="1015.6" y="40.7" font-size="10.5" fill="#131722" textLength="19" lengthAdjust="spacingAndGlyphs" stroke="#131722" stroke-width="0.18">USD</text>
<text x="1012.5" y="59.4" font-size="10.3" fill="#131722" textLength="38.5" lengthAdjust="spacingAndGlyphs" stroke="#131722" stroke-width="0.18">5,240.00</text>
<text x="1012.5" y="100.8" font-size="10.3" fill="#131722" textLength="38.5" lengthAdjust="spacingAndGlyphs" stroke="#131722" stroke-width="0.18">5,230.00</text>
<text x="1012.5" y="142.2" font-size="10.3" fill="#131722" textLength="38.5" lengthAdjust="spacingAndGlyphs" stroke="#131722" stroke-width="0.18">5,220.00</text>
<text x="1012.5" y="183.5" font-size="10.3" fill="#131722" textLength="38.5" lengthAdjust="spacingAndGlyphs" stroke="#131722" stroke-width="0.18">5,210.00</text>
<text x="1012.5" y="307.6" font-size="10.3" fill="#131722" textLength="38.5" lengthAdjust="spacingAndGlyphs" stroke="#131722" stroke-width="0.18">5,180.00</text>
<text x="1012.5" y="349.0" font-size="10.3" fill="#131722" textLength="38.5" lengthAdjust="spacingAndGlyphs" stroke="#131722" stroke-width="0.18">5,170.00</text>
<text x="1012.5" y="390.4" font-size="10.3" fill="#131722" textLength="38.5" lengthAdjust="spacingAndGlyphs" stroke="#131722" stroke-width="0.18">5,160.00</text>
<rect x="1005" y="199.3" width="50.5" height="13.0" rx="1.5" fill="#9c27b0"/>
<text x="1013" y="209.3" font-size="10.3" fill="#fff" textLength="38.4" lengthAdjust="spacingAndGlyphs" fill-opacity="1">5,199.09</text>
<rect x="1005" y="213.3" width="50.5" height="13.5" rx="1.5" fill="#4caf50"/>
<text x="1013" y="223.6" font-size="10.3" fill="#fff" textLength="38.4" lengthAdjust="spacingAndGlyphs" fill-opacity="1">5,198.42</text>
<rect x="1005" y="227.2" width="50.5" height="26.0" rx="1.5" fill="#089981"/>
<text x="1013" y="237.7" font-size="10.3" fill="#fff" textLength="38.4" lengthAdjust="spacingAndGlyphs" fill-opacity="1">5,197.05</text>
<text x="1013" y="248.9" font-size="10.3" fill="#fff" textLength="24.3" lengthAdjust="spacingAndGlyphs" fill-opacity="0.8">01:34</text>
<rect x="1005" y="253.8" width="50.5" height="13.5" rx="1.5" fill="#787b86"/>
<text x="1013" y="263.7" font-size="10.3" fill="#fff" textLength="38.4" lengthAdjust="spacingAndGlyphs" fill-opacity="1">5,194.97</text>
<clipPath id="tax"><rect x="9" y="415" width="995.5" height="24"/></clipPath><g clip-path="url(#tax)">
<text x="41.2" y="431.3" font-size="10.3" fill="#131722" text-anchor="middle" textLength="23.6" lengthAdjust="spacingAndGlyphs" stroke="#131722" stroke-width="0.18">13:00</text>
<text x="94.1" y="431.3" font-size="10.3" fill="#131722" text-anchor="middle" textLength="23.6" lengthAdjust="spacingAndGlyphs" stroke="#131722" stroke-width="0.18">14:00</text>
<text x="147.1" y="431.3" font-size="10.3" fill="#131722" text-anchor="middle" textLength="23.6" lengthAdjust="spacingAndGlyphs" stroke="#131722" stroke-width="0.18">15:00</text>
<text x="200.0" y="431.3" font-size="10.3" fill="#131722" text-anchor="middle" textLength="23.6" lengthAdjust="spacingAndGlyphs" stroke="#131722" stroke-width="0.18">16:00</text>
<text x="252.9" y="431.3" font-size="10.3" fill="#131722" text-anchor="middle" textLength="23.6" lengthAdjust="spacingAndGlyphs" stroke="#131722" stroke-width="0.18">17:00</text>
<text x="305.9" y="431.3" font-size="10.3" fill="#131722" text-anchor="middle" textLength="23.6" lengthAdjust="spacingAndGlyphs" stroke="#131722" stroke-width="0.18">18:00</text>
<text x="358.8" y="431.3" font-size="10.3" fill="#131722" text-anchor="middle" textLength="23.6" lengthAdjust="spacingAndGlyphs" stroke="#131722" stroke-width="0.18">19:00</text>
<text x="411.8" y="431.3" font-size="10.3" fill="#131722" text-anchor="middle" textLength="23.6" lengthAdjust="spacingAndGlyphs" stroke="#131722" stroke-width="0.18">20:00</text>
<text x="464.7" y="431.3" font-size="10.3" fill="#131722" text-anchor="middle" textLength="23.6" lengthAdjust="spacingAndGlyphs" stroke="#131722" stroke-width="0.18">22:00</text>
<text x="517.7" y="431.3" font-size="10.3" fill="#131722" text-anchor="middle" textLength="23.6" lengthAdjust="spacingAndGlyphs" stroke="#131722" stroke-width="0.18">23:00</text>
<text x="570.6" y="431.3" font-size="10.3" fill="#131722" text-anchor="middle" font-weight="bold" textLength="9.6" lengthAdjust="spacingAndGlyphs">11</text>
<text x="623.6" y="431.3" font-size="10.3" fill="#131722" text-anchor="middle" textLength="23.6" lengthAdjust="spacingAndGlyphs" stroke="#131722" stroke-width="0.18">01:00</text>
<text x="676.5" y="431.3" font-size="10.3" fill="#131722" text-anchor="middle" textLength="23.6" lengthAdjust="spacingAndGlyphs" stroke="#131722" stroke-width="0.18">02:00</text>
<text x="729.4" y="431.3" font-size="10.3" fill="#131722" text-anchor="middle" textLength="23.6" lengthAdjust="spacingAndGlyphs" stroke="#131722" stroke-width="0.18">03:00</text>
<text x="782.4" y="431.3" font-size="10.3" fill="#131722" text-anchor="middle" textLength="23.6" lengthAdjust="spacingAndGlyphs" stroke="#131722" stroke-width="0.18">04:00</text>
<text x="835.3" y="431.3" font-size="10.3" fill="#131722" text-anchor="middle" textLength="23.6" lengthAdjust="spacingAndGlyphs" stroke="#131722" stroke-width="0.18">05:00</text>
<text x="888.3" y="431.3" font-size="10.3" fill="#131722" text-anchor="middle" textLength="23.6" lengthAdjust="spacingAndGlyphs" stroke="#131722" stroke-width="0.18">06:00</text>
<text x="941.2" y="431.3" font-size="10.3" fill="#131722" text-anchor="middle" textLength="23.6" lengthAdjust="spacingAndGlyphs" stroke="#131722" stroke-width="0.18">07:00</text>
<text x="994.2" y="431.3" font-size="10.3" fill="#131722" text-anchor="middle" textLength="23.6" lengthAdjust="spacingAndGlyphs" stroke="#131722" stroke-width="0.18">08:00</text>
</g>
<g><circle cx="958.4" cy="404.9" r="8.05" fill="#fff" stroke="#9c27b0" stroke-width="1.45"/><path d="M960.72 400.58L954.62 405.19L957.84 405.53L955.42 410.13L961.87 405.30L958.64 404.95Z" fill="#9c27b0"/><circle cx="964.1" cy="399.5" r="3.7" fill="#fff"/><circle cx="964.1" cy="399.5" r="2.35" fill="#f23645"/></g>
<g fill="#111318"><path d="M10.2 457.7H20.2V469.7H15V463H10.2Z"/><circle cx="23.7" cy="460" r="2.25"/><path d="M28.2 457.7H34.8L30.7 469.7H24.4Z"/></g>
<text x="40.7" y="469.7" font-size="16.6" fill="#111318" font-weight="bold" textLength="100.4" lengthAdjust="spacingAndGlyphs">TradingView</text>
</svg></body></html>
